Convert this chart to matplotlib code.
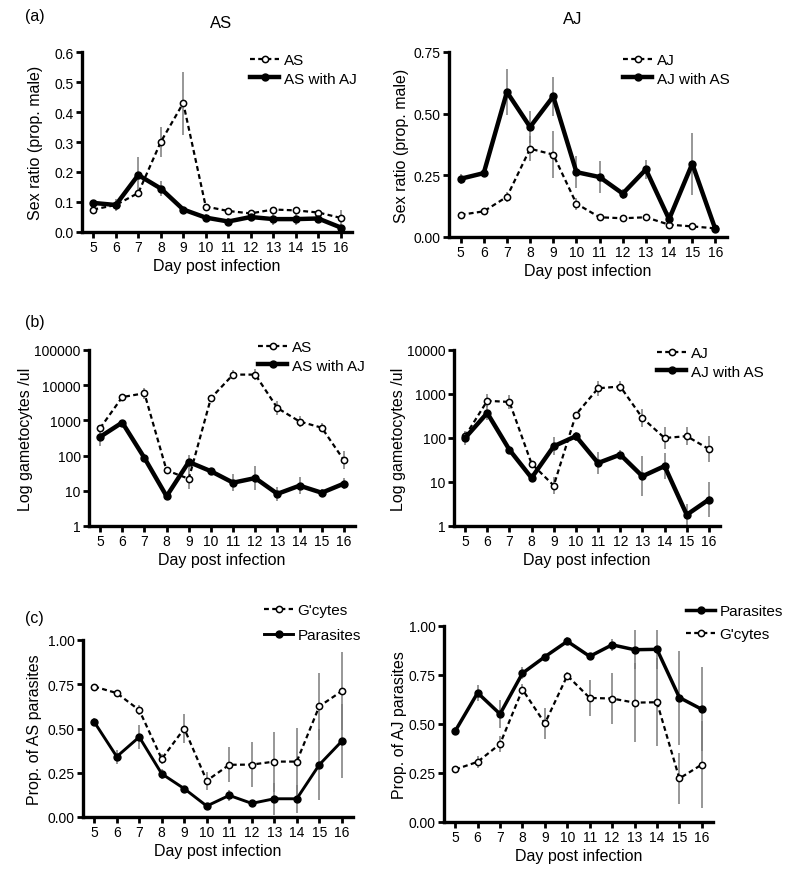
import numpy as np
import matplotlib
matplotlib.use("Agg")
import matplotlib.pyplot as plt

plt.rcParams['font.family'] = ['Liberation Sans', 'DejaVu Sans']

days = [5, 6, 7, 8, 9, 10, 11, 12, 13, 14, 15, 16]

# (a) sex ratio
sr_as = [0.075, 0.09, 0.13, 0.30, 0.43, 0.085, 0.07, 0.062, 0.075, 0.072, 0.065, 0.047]
sr_as_err = [0.006, 0.01, 0.01, 0.05, 0.105, 0.01, 0.006, 0.006, 0.006, 0.006, 0.008, 0.025]
sr_as_mix = [0.097, 0.09, 0.19, 0.145, 0.075, 0.048, 0.035, 0.05, 0.043, 0.043, 0.045, 0.015]
sr_as_mix_err = [0.008, 0.02, 0.06, 0.025, 0.006, 0.012, 0.012, 0.008, 0.018, 0.02, 0.015, 0.008]

sr_aj = [0.09, 0.104, 0.163, 0.358, 0.334, 0.135, 0.08, 0.076, 0.08, 0.05, 0.043, 0.035]
sr_aj_err = [0.006, 0.008, 0.02, 0.05, 0.095, 0.025, 0.01, 0.006, 0.006, 0.015, 0.012, 0.008]
sr_aj_mix = [0.236, 0.259, 0.588, 0.446, 0.57, 0.263, 0.243, 0.176, 0.274, 0.072, 0.297, 0.031]
sr_aj_mix_err = [0.02, 0.01, 0.095, 0.065, 0.08, 0.065, 0.065, 0.02, 0.04, 0.03, 0.125, 0.01]

# (b) gametocyte densities, errors in log10 units
gc_as = [600, 4600, 5900, 38, 22, 4300, 20000, 20000, 2240, 930, 620, 74]
gc_as_err = [0.08, 0.1, 0.15, 0.05, 0.28, 0.05, 0.12, 0.15, 0.2, 0.15, 0.12, 0.25]
gc_as_mix = [340, 870, 86, 7, 66, 36, 17, 23, 8.2, 14, 8.8, 16]
gc_as_mix_err = [0.25, 0.05, 0.05, 0.1, 0.2, 0.05, 0.25, 0.35, 0.2, 0.25, 0.1, 0.15]

gc_aj = [110, 700, 660, 26, 8.3, 340, 1350, 1480, 285, 100, 110, 56]
gc_aj_err = [0.1, 0.15, 0.15, 0.05, 0.2, 0.05, 0.17, 0.13, 0.2, 0.25, 0.2, 0.3]
gc_aj_mix = [100, 370, 54, 12.4, 65, 110, 27, 42, 13.5, 23, 1.8, 4.0]
gc_aj_mix_err = [0.15, 0.15, 0.05, 0.1, 0.2, 0.1, 0.25, 0.1, 0.45, 0.3, 0.25, 0.4]

# (c) proportions in mixed infections
pr_as_gc = [0.737, 0.70, 0.604, 0.328, 0.50, 0.205, 0.295, 0.296, 0.313, 0.313, 0.625, 0.711]
pr_as_gc_err = [0.01, 0.02, 0.03, 0.03, 0.08, 0.05, 0.1, 0.125, 0.17, 0.19, 0.19, 0.22]
pr_as_par = [0.537, 0.341, 0.452, 0.244, 0.16, 0.062, 0.122, 0.077, 0.103, 0.103, 0.295, 0.428]
pr_as_par_err = [0.02, 0.04, 0.07, 0.03, 0.01, 0.01, 0.03, 0.02, 0.09, 0.08, 0.2, 0.21]

pr_aj_par = [0.464, 0.659, 0.551, 0.759, 0.843, 0.922, 0.845, 0.904, 0.879, 0.881, 0.635, 0.575]
pr_aj_par_err = [0.02, 0.04, 0.07, 0.03, 0.01, 0.02, 0.01, 0.03, 0.1, 0.1, 0.24, 0.215]
pr_aj_gc = [0.268, 0.307, 0.398, 0.676, 0.503, 0.747, 0.633, 0.63, 0.609, 0.611, 0.222, 0.293]
pr_aj_gc_err = [0.02, 0.03, 0.04, 0.03, 0.08, 0.02, 0.09, 0.13, 0.2, 0.225, 0.13, 0.22]

W, H = 800, 879
fig = plt.figure(figsize=(8, 8.79), dpi=100)


def add_ax(x0, y0, x1, y1):
    return fig.add_axes([x0 / W, 1 - y1 / H, (x1 - x0) / W, (y1 - y0) / H])


def style(ax, ylabel, pad=4):
    for s in ['top', 'right']:
        ax.spines[s].set_visible(False)
    for s in ['left', 'bottom']:
        ax.spines[s].set_linewidth(2.4)
    ax.tick_params(width=2, length=4, labelsize=10, pad=2)
    ax.set_xticks(days)
    ax.set_xlim(4.5, 16.5)
    ax.set_xlabel('Day post infection', fontsize=11.5, labelpad=3)
    ax.set_ylabel(ylabel, fontsize=11.5, labelpad=pad)


def errs(y, e, log):
    if not log:
        return e
    y = np.array(y)
    e = np.array(e)
    return [y - y / 10 ** e, y * 10 ** e - y]


def dashed(ax, y, e, label, log=False):
    ax.errorbar(days, y, yerr=errs(y, e, log), fmt='none', ecolor='#7a7a7a',
                elinewidth=1.1, zorder=2)
    ax.plot(days, y, color='black', lw=1.6, ls=(0, (2.2, 1.5)), marker='o', ms=4.5,
            mfc='white', mec='black', mew=1.1, label=label, zorder=3)


def solid(ax, y, e, label, lw=3.2, log=False):
    ax.errorbar(days, y, yerr=errs(y, e, log), fmt='none', ecolor='#7a7a7a',
                elinewidth=1.1, zorder=2)
    ax.plot(days, y, color='black', lw=lw, marker='o', ms=5, label=label, zorder=4)


def legend(ax, x, y, spacing=0.3, order=None):
    h, l = ax.get_legend_handles_labels()
    if order:
        h = [h[i] for i in order]
        l = [l[i] for i in order]
    ax.legend(h, l, loc='upper left', bbox_to_anchor=(x / W, 1 - y / H),
              bbox_transform=fig.transFigure, frameon=False, fontsize=11,
              handlelength=1.9, handletextpad=0.3, labelspacing=spacing, borderpad=0,
              borderaxespad=0)


# (a) left
ax = add_ax(82, 53, 352, 233)
dashed(ax, sr_as, sr_as_err, 'AS')
solid(ax, sr_as_mix, sr_as_mix_err, 'AS with AJ')
ax.set_ylim(0, 0.6)
ax.set_yticks([0.0, 0.1, 0.2, 0.3, 0.4, 0.5, 0.6])
ax.set_yticklabels(['0.0', '0.1', '0.2', '0.3', '0.4', '0.5', '0.6'])
style(ax, 'Sex ratio (prop. male)', pad=8)
legend(ax, 250, 54)

# (a) right
ax = add_ax(449, 53, 727, 238)
dashed(ax, sr_aj, sr_aj_err, 'AJ')
solid(ax, sr_aj_mix, sr_aj_mix_err, 'AJ with AS')
ax.set_ylim(0, 0.75)
ax.set_yticks([0, 0.25, 0.5, 0.75])
ax.set_yticklabels(['0.00', '0.25', '0.50', '0.75'])
style(ax, 'Sex ratio (prop. male)', pad=3)
legend(ax, 623, 54)

# (b) left
ax = add_ax(89, 351, 355, 527)
dashed(ax, gc_as, gc_as_err, 'AS', log=True)
solid(ax, gc_as_mix, gc_as_mix_err, 'AS with AJ', log=True)
ax.set_yscale('log')
ax.set_ylim(1, 100000)
ax.set_yticks([1, 10, 100, 1000, 10000, 100000])
ax.set_yticklabels(['1', '10', '100', '1000', '10000', '100000'])
ax.minorticks_off()
style(ax, 'Log gametocytes /ul', pad=1)
legend(ax, 258, 341)

# (b) right
ax = add_ax(454, 351, 720, 527)
dashed(ax, gc_aj, gc_aj_err, 'AJ', log=True)
solid(ax, gc_aj_mix, gc_aj_mix_err, 'AJ with AS', log=True)
ax.set_yscale('log')
ax.set_ylim(1, 10000)
ax.set_yticks([1, 10, 100, 1000, 10000])
ax.set_yticklabels(['1', '10', '100', '1000', '10000'])
ax.minorticks_off()
style(ax, 'Log gametocytes /ul', pad=1)
legend(ax, 657, 347)

# (c) left
ax = add_ax(83, 641, 353, 818)
dashed(ax, pr_as_gc, pr_as_gc_err, "G'cytes")
solid(ax, pr_as_par, pr_as_par_err, 'Parasites', lw=2.1)
ax.set_ylim(0, 1)
ax.set_yticks([0, 0.25, 0.5, 0.75, 1.0])
ax.set_yticklabels(['0.00', '0.25', '0.50', '0.75', '1.00'])
style(ax, 'Prop. of AS parasites')
legend(ax, 264, 604, spacing=0.75)

# (c) right
ax = add_ax(444, 627, 713, 823)
dashed(ax, pr_aj_gc, pr_aj_gc_err, "G'cytes")
solid(ax, pr_aj_par, pr_aj_par_err, 'Parasites', lw=2.5)
ax.set_ylim(0, 1)
ax.set_yticks([0, 0.25, 0.5, 0.75, 1.0])
ax.set_yticklabels(['0.00', '0.25', '0.50', '0.75', '1.00'])
style(ax, 'Prop. of AJ parasites', pad=1)
legend(ax, 686, 605, spacing=0.6, order=[1, 0])

# panel letters and titles
fig.text(25 / W, 1 - 17 / H, '(a)', fontsize=11.5, va='center')
fig.text(25 / W, 1 - 322 / H, '(b)', fontsize=11.5, va='center')
fig.text(25 / W, 1 - 618 / H, '(c)', fontsize=11.5, va='center')
fig.text(221 / W, 1 - 24 / H, 'AS', fontsize=12, ha='center', va='center')
fig.text(573 / W, 1 - 19 / H, 'AJ', fontsize=12, ha='center', va='center')

fig.savefig('out.png', dpi=100)
